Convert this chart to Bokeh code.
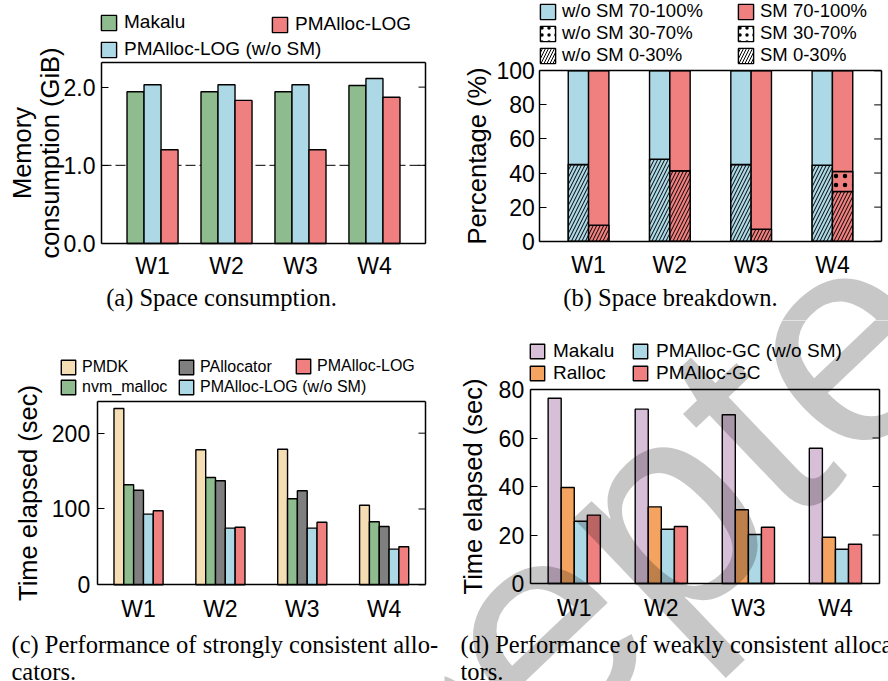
import numpy as np
from bokeh.plotting import figure
from bokeh.models import (Range1d, FixedTicker, Legend, LegendItem, Label,
                          LinearAxis, ColumnDataSource, PrintfTickFormatter)
from bokeh.layouts import column, row
from bokeh.embed import file_html
from bokeh.resources import INLINE

# ---------------- data ----------------
workloads = ["W1", "W2", "W3", "W4"]

# (a) memory consumption (GiB)
mem_makalu = [1.94, 1.94, 1.94, 2.02]
mem_log_nosm = [2.03, 2.03, 2.03, 2.11]
mem_log = [1.20, 1.83, 1.20, 1.87]
mem_reference = 1.0
mem_ticks = [0.0, 1.0, 2.0]

# (b) space breakdown (%)
nosm_0_30 = [45.0, 48.1, 45.0, 44.6]
nosm_30_70 = [0.0, 0.0, 0.0, 0.0]
nosm_70_100 = [55.0, 51.9, 55.0, 55.4]
sm_0_30 = [9.4, 41.3, 7.0, 29.2]
sm_30_70 = [0.0, 0.0, 0.0, 11.7]
sm_70_100 = [90.6, 58.7, 93.0, 59.1]
pct_ticks = [0, 20, 40, 60, 80, 100]

# (c) strongly consistent allocators (sec)
t_pmdk = [232.6, 178.1, 178.9, 105.0]
t_nvm = [131.9, 141.6, 113.5, 83.1]
t_palloc = [124.8, 137.2, 124.0, 76.9]
t_log_nosm = [93.2, 74.7, 74.7, 47.0]
t_log = [97.6, 76.0, 82.6, 50.1]
c_ticks = [0, 100, 200]

# (d) weakly consistent allocators (sec)
t_makalu = [76.4, 71.9, 69.6, 55.8]
t_ralloc = [39.6, 31.6, 30.4, 19.1]
t_gc_nosm = [25.7, 22.4, 20.2, 14.1]
t_gc = [28.2, 23.5, 23.2, 16.2]
d_ticks = [0, 20, 40, 60, 80]

# ---------------- style ----------------
SANS = "Liberation Sans"
SERIF = "Liberation Serif"
GREEN = "#8fbc8f"
BLUE = "#add8e6"
RED = "#f08080"
WHEAT = "#f5deb3"
GRAY = "#7f7f7f"
THISTLE = "#d8bfd8"
ORANGE = "#f4a460"
TICK_FS = "23px"
AXLAB_FS = "25.5px"
CAP_FS = "24.5px"
xs = np.arange(len(workloads), dtype=float)


def panel(W, H, box, xd, yd, yticks, ylabel, ystand, lstand, xstand, yfmt=None):
    """box = (left, right, top, bottom) in canvas px; xd/yd = data limits of the box."""
    bl, br, bt, bb = box
    sx = (br - bl) / (xd[1] - xd[0])
    sy = (bb - bt) / (yd[1] - yd[0])
    xr = Range1d(xd[0] - bl / sx, xd[1] + (W - br) / sx)
    yr = Range1d(yd[0] - (H - bb) / sy, yd[1] + bt / sy)
    p = figure(width=W, height=H, x_range=xr, y_range=yr, title=None,
               output_backend="svg", toolbar_location=None, min_border=0)
    p.xgrid.visible = False
    p.ygrid.visible = False
    p.outline_line_color = None
    p.background_fill_color = "white"
    p.border_fill_color = "white"
    xa = p.xaxis[0]
    xa.fixed_location = yd[0]
    xa.bounds = xd
    xa.ticker = FixedTicker(ticks=list(xs))
    xa.major_label_overrides = {i: wl for i, wl in enumerate(workloads)}
    xa.major_tick_in = 0
    xa.major_tick_out = 0
    xa.minor_tick_in = 0
    xa.minor_tick_out = 0
    xa.axis_line_color = "black"
    xa.axis_line_width = 1.5
    xa.major_label_text_font = SANS
    xa.major_label_text_font_size = TICK_FS
    xa.major_label_text_color = "black"
    xa.major_label_standoff = xstand
    ya = p.yaxis[0]
    ya.fixed_location = xd[0]
    ya.bounds = yd
    ya.ticker = FixedTicker(ticks=yticks)
    if yfmt:
        ya.formatter = PrintfTickFormatter(format=yfmt)
    ya.major_tick_in = 7
    ya.major_tick_out = 0
    ya.minor_tick_in = 0
    ya.minor_tick_out = 0
    ya.axis_line_color = "black"
    ya.axis_line_width = 1.5
    ya.major_tick_line_color = "black"
    ya.major_label_text_font = SANS
    ya.major_label_text_font_size = TICK_FS
    ya.major_label_text_color = "black"
    ya.major_label_standoff = ystand
    ya.axis_label = ylabel
    ya.axis_label_text_font = SANS
    ya.axis_label_text_font_size = AXLAB_FS
    ya.axis_label_text_font_style = "normal"
    ya.axis_label_text_color = "black"
    ya.axis_label_text_line_height = 1.0
    ya.axis_label_standoff = lstand
    # frame top and right edges
    top = LinearAxis(fixed_location=yd[1], bounds=xd, ticker=FixedTicker(ticks=[]),
                     axis_line_color="black", axis_line_width=1.5,
                     major_tick_in=0, major_tick_out=0, minor_tick_in=0, minor_tick_out=0)
    p.add_layout(top, "above")
    right = LinearAxis(fixed_location=xd[1], bounds=yd, ticker=FixedTicker(ticks=[]),
                       axis_line_color="black", axis_line_width=1.5,
                       major_tick_in=0, major_tick_out=0, minor_tick_in=0, minor_tick_out=0)
    p.add_layout(right, "right")
    # mirrored tick marks on the right edge (7 px long)
    tick_len = 7 / sx
    p.segment(x0=[xd[1]] * len(yticks), x1=[xd[1] - tick_len] * len(yticks),
              y0=yticks, y1=yticks, line_color="black", line_width=1)
    return p


def bars(p, xoff, vals, width, color, bottoms=None, **kw):
    b = np.zeros(len(vals)) if bottoms is None else np.asarray(bottoms, dtype=float)
    src = ColumnDataSource(dict(x=xs + xoff, top=b + np.asarray(vals, dtype=float), bottom=b))
    return p.vbar(x="x", top="top", bottom="bottom", width=width, source=src,
                  fill_color=color, line_color="black", line_width=1.4, **kw)


def legend(p, pairs, x, y, fs, glyph, standoff, spacing):
    lg = Legend(items=[LegendItem(label=l, renderers=[r]) for l, r in pairs],
                location=(x, y), orientation="vertical",
                background_fill_alpha=0, border_line_alpha=0, padding=0, margin=0,
                spacing=spacing, glyph_width=glyph, glyph_height=glyph,
                label_standoff=standoff, label_text_font=SANS, label_text_font_size=fs,
                label_text_color="black", label_height=glyph)
    p.add_layout(lg)


def caption(p, text, x, y, align="left"):
    p.add_layout(Label(x=x, y=y, x_units="screen", y_units="screen", text=text,
                       text_font=SERIF, text_font_size=CAP_FS, text_color="black",
                       text_align=align, text_baseline="alphabetic"))


# ---------------- (a) ----------------
xa_lim = (-0.69, 3.69)
pa = panel(444, 320, (101, 425, 62, 243), xa_lim, (0, 2.315), mem_ticks,
           "Memory\nconsumption (GiB)", 6, -3, 9, yfmt="%.1f")
pa.segment(x0=[xa_lim[0]], x1=[xa_lim[1]], y0=[mem_reference], y1=[mem_reference],
           line_color="black", line_dash="10 4", line_width=1)
bw = 0.23
ra1 = bars(pa, -bw, mem_makalu, bw, GREEN)
ra2 = bars(pa, 0.0, mem_log_nosm, bw, BLUE)
ra3 = bars(pa, bw, mem_log, bw, RED)
legend(pa, [("Makalu", ra1), ("PMAlloc-LOG (w/o SM)", ra2)], 99, 260, "19px", 19, 6, 5)
legend(pa, [("PMAlloc-LOG", ra3)], 270, 285, "19px", 19, 6, 5)
caption(pa, "(a) Space consumption.", 221, 23, "center")

# ---------------- (b) ----------------
pb = panel(444, 320, (95.3, 436.7, 70.3, 240.7), (-0.6, 3.6), (0, 100), pct_ticks,
           "Percentage (%)", 5, 2, 11)
bw = 0.25
hs = dict(hatch_color="black", hatch_weight=1, hatch_scale=7)
ds = dict(hatch_color="black", hatch_weight=0.9, hatch_scale=9)
ls_d = dict(hatch_color="black", hatch_weight=1, hatch_scale=6)
ls_p = dict(hatch_color="black", hatch_weight=0.8, hatch_scale=7)
# white patterned layers (legend swatches), hidden beneath the coloured bars
wd_n = bars(pb, -bw / 2, nosm_0_30, bw, "white", hatch_pattern="/", **ls_d)
wp_n = bars(pb, -bw / 2, nosm_30_70, bw, "white", bottoms=nosm_0_30, hatch_pattern=".", **ls_p)
wd_s = bars(pb, bw / 2, sm_0_30, bw, "white", hatch_pattern="/", **ls_d)
wp_s = bars(pb, bw / 2, sm_30_70, bw, "white", bottoms=sm_0_30, hatch_pattern=".", **ls_p)
nb0 = bars(pb, -bw / 2, nosm_0_30, bw, BLUE, hatch_pattern="/", **hs)
nb1 = bars(pb, -bw / 2, nosm_30_70, bw, BLUE, bottoms=nosm_0_30, hatch_pattern=".", **ds)
nb2 = bars(pb, -bw / 2, nosm_70_100, bw, BLUE, bottoms=np.add(nosm_0_30, nosm_30_70))
sb0 = bars(pb, bw / 2, sm_0_30, bw, RED, hatch_pattern="/", **hs)
sb1 = bars(pb, bw / 2, sm_30_70, bw, RED, bottoms=sm_0_30, hatch_pattern=".", **ds)
sb2 = bars(pb, bw / 2, sm_70_100, bw, RED, bottoms=np.add(sm_0_30, sm_30_70))
legend(pb, [("w/o SM 70-100%", nb2), ("w/o SM 30-70%", wp_n), ("w/o SM 0-30%", wd_n)],
       94, 254, "18.5px", 19, 5, 0)
legend(pb, [("SM 70-100%", sb2), ("SM 30-70%", wp_s), ("SM 0-30%", wd_s)],
       292, 254, "18.5px", 19, 5, 0)
caption(pb, "(b) Space breakdown.", 226, 23, "center")

# ---------------- (c) ----------------
pc = panel(444, 361, (96.7, 425, 81.3, 264.3), (-0.505, 3.505), (0, 241.4), c_ticks,
           "Time elapsed (sec)", 7, 7, 11)
bw = 0.12
rc1 = bars(pc, -2 * bw, t_pmdk, bw, WHEAT)
rc2 = bars(pc, -bw, t_nvm, bw, GREEN)
rc3 = bars(pc, 0.0, t_palloc, bw, GRAY)
rc4 = bars(pc, bw, t_log_nosm, bw, BLUE)
rc5 = bars(pc, 2 * bw, t_log, bw, RED)
legend(pc, [("PMDK", rc1), ("nvm_malloc", rc2)], 59, 285, "16px", 18, 5, 2)
legend(pc, [("PAllocator", rc3), ("PMAlloc-LOG (w/o SM)", rc4)], 177, 285, "16px", 18, 5, 2)
legend(pc, [("PMAlloc-LOG", rc5)], 294, 306, "16px", 18, 5, 2)
caption(pc, "(c) Performance of strongly consistent allo-", 11, 37)
caption(pc, "cators.", 11, 10)

# ---------------- (d) ----------------
pd_ = panel(444, 361, (85.7, 435, 69, 263), (-0.506, 3.506), (0, 80), d_ticks,
            "Time elapsed (sec)", 6, 9, 11)
bw = 0.15
rd1 = bars(pd_, -1.5 * bw, t_makalu, bw, THISTLE)
rd2 = bars(pd_, -0.5 * bw, t_ralloc, bw, ORANGE)
rd3 = bars(pd_, 0.5 * bw, t_gc_nosm, bw, BLUE)
rd4 = bars(pd_, 1.5 * bw, t_gc, bw, RED)
legend(pd_, [("Makalu", rd1), ("Ralloc", rd2)], 84, 297, "19px", 18, 7, 0)
legend(pd_, [("PMAlloc-GC (w/o SM)", rd3), ("PMAlloc-GC", rd4)], 187, 297, "19px", 18, 7, 0)
caption(pd_, "(d) Performance of weakly consistent alloca-", 16, 37)
caption(pd_, "tors.", 16, 10)

# watermark (semi-transparent, spans panels b and d)
for fig, wx, wy in ((pd_, -331, -350), (pb, -331, -711)):
    fig.add_layout(Label(x=wx, y=wy, x_units="screen", y_units="screen", text="Accepted",
                         angle=43.6, angle_units="deg", text_font=SANS, text_font_size="300px",
                         text_color="black", text_alpha=0.22, text_align="left",
                         text_baseline="alphabetic"))

layout = column(row(pa, pb), row(pc, pd_))
open("out.html", "w").write(file_html(layout, INLINE))
